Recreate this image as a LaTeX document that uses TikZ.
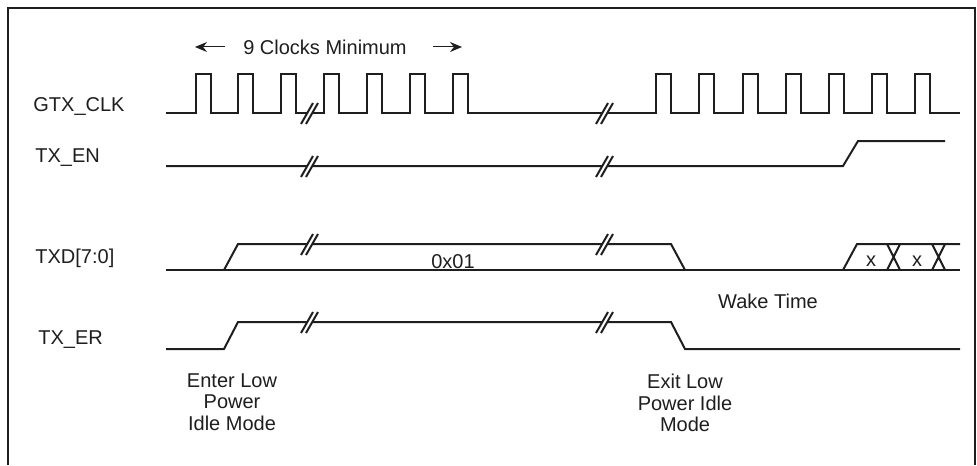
\documentclass[tikz,border=0pt]{standalone}
\usepackage{fontspec}
\setmainfont{Liberation Sans}
\usetikzlibrary{arrows.meta}
\definecolor{inkgray}{RGB}{30,30,30}
\tikzset{
  sig/.style={line width=1pt, inkgray},
  frm/.style={line width=1.3pt, inkgray},
  dim/.style={-{Stealth[length=6pt,width=5pt]}, line width=0.5pt, inkgray},
  lbl/.style={font=\fontsize{10}{10.75}\selectfont, text=inkgray, inner sep=0pt},
  sgn/.style={lbl, anchor=west},
  note/.style={lbl, align=center},
  brk/.pic={
    \fill[white] (-9,11) -- (3,-10) -- (8,-10) -- (-4,11) -- cycle;
    \draw[line width=1pt, inkgray] (-9,11) -- (3,-10) (-4,11) -- (8,-10);
  }
}
\begin{document}
\begin{tikzpicture}[x=0.5pt, y=-0.5pt]
  \useasboundingbox (0,0) rectangle (977,465);
  \draw[frm] (8,465) -- (8,8) -- (975,8) -- (975,465);

  % signal names
  \node[sgn] (gtx) at (33,107) {GTX\_CLK};
  \node[sgn] (txen) at (35,158) {TX\_EN};
  \node[sgn] (txd) at (35,258) {TXD[7:0]};
  \node[sgn] (txer) at (38,340) {TX\_ER};

  % 9 clocks
  \node[lbl] (nclk) at (325,47) {9 Clocks Minimum};
  \coordinate (la) at (225,47);
  \coordinate (lb) at (195,47);
  \coordinate (ra) at (433,47);
  \coordinate (rb) at (462,47);
  \draw[dim] (la) -- (lb);
  \draw[dim] (ra) -- (rb);

  % GTX_CLK
  \draw[sig] (166,113)
    \foreach \t in {196,238,281,324,367,410,453,656,699,743,786,829,872,915}
      { -- (\t,113) -- (\t,74) -- (\t+14.5,74) -- (\t+14.5,113) }
    -- (960,113);

  % TX_EN
  \draw[sig] (166,166) -- (843,166) -- (858,141) -- (945,141);

  % TXD[7:0]
  \draw[sig] (166,270) -- (960,270);
  \draw[sig] (224,270) -- (238,244) -- (671,244) -- (685,270);
  \draw[sig] (843,270) -- (857,244) -- (960,244);
  \draw[sig] (887,244) -- (900,270) (887,270) -- (900,244);
  \draw[sig] (932,244) -- (945,270) (932,270) -- (945,244);
  \node[lbl] (val) at (453,262) {0x01};
  \node[lbl] (xa) at (871,261) {x};
  \node[lbl] (xb) at (917,261) {x};

  % TX_ER
  \draw[sig] (166,349) -- (224,349) -- (238,322) -- (671,322) -- (685,349) -- (960,349);

  % breaks
  \foreach \y in {113,166,244,322}
    \foreach \x in {310,605}
      \pic at (\x,\y) {brk};

  \node[lbl] (wake) at (768,301) {Wake Time};
  \node[note] (enter) at (232,402) {Enter Low\\Power\\Idle Mode};
  \node[note] (exit) at (685,403) {Exit Low\\Power Idle\\Mode};
\end{tikzpicture}
\end{document}
